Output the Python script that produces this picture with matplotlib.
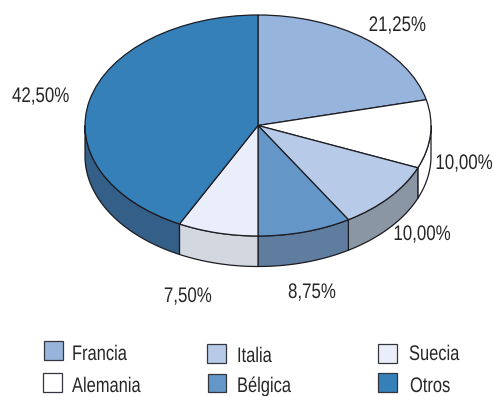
import numpy as np
import matplotlib
matplotlib.use("Agg")
import matplotlib.pyplot as plt
from matplotlib.patches import Rectangle
from matplotlib.patheffects import AbstractPathEffect
from matplotlib.transforms import Affine2D

plt.rcParams["font.family"] = ["Liberation Sans", "DejaVu Sans"]

categories = ["Francia", "Alemania", "Italia", "Bélgica", "Suecia", "Otros"]
values = [21.25, 10.00, 10.00, 8.75, 7.50, 42.50]
top_colors = ["#97b5dc", "#ffffff", "#b7cbe8", "#6596c8", "#e9eefa", "#3680ba"]
side_colors = ["#6f87a5", "#ffffff", "#8a96a3", "#5f7d9e", "#d3d8e0", "#345f88"]
value_labels = ["21,25%", "10,00%", "10,00%", "8,75%", "7,50%", "42,50%"]

W, H = 494, 396
CX, CY, RX, RY, DEPTH = 258, 125.5, 173, 110.5, 30.5
label_anchor_px = [(426, 31, "right"), (493, 169, "right"), (451, 240, "right"),
                   (336, 298, "right"), (212, 302, "right"), (12, 102, "left")]
legend_box_px = [(44, 341, 18.5, 18.5), (43, 373, 19, 19), (207, 344, 19, 19),
                 (208, 374, 17.5, 18), (378, 343.5, 19, 19), (378, 373, 19, 19)]
legend_text_px = [(72, 360), (72, 392), (237, 362), (237, 392), (409, 360), (410, 392)]
FS = 15.2
SQUEEZE_VALUES = 0.80
SQUEEZE_LEGEND = 0.78
LW = 0.9
EDGE = "#1c1c22"
TEXT = "#262626"


class Condense(AbstractPathEffect):
    """Narrow the glyphs horizontally around the text anchor."""

    def __init__(self, anchor_x, factor):
        super().__init__()
        self.anchor_x = anchor_x
        self.factor = factor

    def draw_path(self, renderer, gc, tpath, affine, rgbFace=None):
        squeeze = (Affine2D().translate(-self.anchor_x, 0)
                   .scale(self.factor, 1).translate(self.anchor_x, 0))
        renderer.draw_path(gc, tpath, affine + squeeze, rgbFace)


fig = plt.figure(figsize=(W / 100, H / 100), dpi=100)
ax = fig.add_axes([(CX - RX) / W, 1 - (CY + RY) / H, 2 * RX / W, 2 * RY / H])
d = DEPTH / RY

# Side wall of the disc, computed from the slice angles (clockwise from the top)
edges = 90 - 3.6 * np.concatenate([[0], np.cumsum(values)])
for a0, a1, col in zip(edges[:-1], edges[1:], side_colors):
    lo, hi = max(a1, -180), min(a0, 0)
    if hi <= lo:
        continue
    t = np.radians(np.linspace(lo, hi, 80))
    xs = np.concatenate([np.cos(t), np.cos(t[::-1])])
    ys = np.concatenate([np.sin(t), np.sin(t[::-1]) - d])
    ax.fill(xs, ys, facecolor=col, edgecolor=EDGE, linewidth=LW, zorder=1, clip_on=False)

ax.pie(values, colors=top_colors, startangle=90, counterclock=False, radius=1, center=(0, 0),
       wedgeprops=dict(edgecolor=EDGE, linewidth=LW, zorder=2, clip_on=False))
ax.set_aspect("auto")
ax.set_xlim(-1, 1)
ax.set_ylim(-1, 1)
ax.axis("off")

for txt, (x, y, align) in zip(value_labels, label_anchor_px):
    fig.text(x / W, 1 - y / H, txt, ha=align, va="baseline", fontsize=FS, color=TEXT,
             path_effects=[Condense(x, SQUEEZE_VALUES)])

for col, (x, y, w, h) in zip(top_colors, legend_box_px):
    fig.add_artist(Rectangle((x / W, 1 - (y + h) / H), w / W, h / H, transform=fig.transFigure,
                             facecolor=col, edgecolor="#33373d", linewidth=0.9))
for name, (x, y) in zip(categories, legend_text_px):
    fig.text(x / W, 1 - y / H, name, ha="left", va="baseline", fontsize=FS, color=TEXT,
             path_effects=[Condense(x, SQUEEZE_LEGEND)])

fig.savefig("out.png", dpi=100)
